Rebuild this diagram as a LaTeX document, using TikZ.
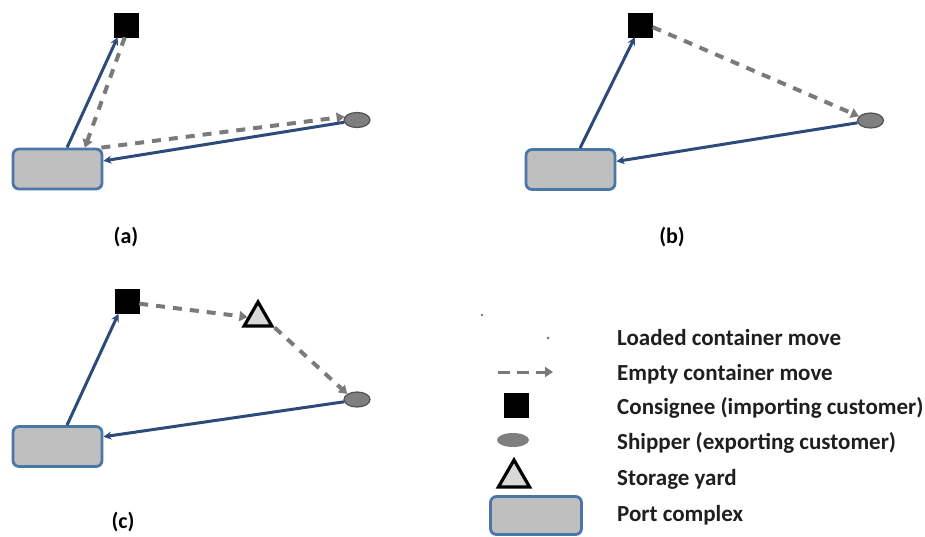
\documentclass[tikz,border=0pt]{standalone}
\usepackage{fontspec}
\setmainfont{Carlito}
\usetikzlibrary{arrows.meta,shapes.geometric}
\definecolor{loadc}{HTML}{2E4A7A}
\definecolor{emptyc}{HTML}{7A7A7A}
\definecolor{portfill}{HTML}{BFBFBF}
\definecolor{portedge}{HTML}{4A76A8}
\definecolor{shipfill}{HTML}{7F7F7F}
\definecolor{shipedge}{HTML}{505050}
\definecolor{trifill}{HTML}{D9D9D9}
\tikzset{
  x=1pt, y=-1pt,
  port/.style={draw=portedge, fill=portfill, line width=2.8pt, rounded corners=6pt, minimum width=89pt, minimum height=40pt, inner sep=0pt},
  consignee/.style={draw=black, fill=black, minimum size=24pt, inner sep=0pt},
  shipper/.style={ellipse, draw=shipedge, fill=shipfill, line width=1.2pt, minimum width=26pt, minimum height=15pt, inner sep=0pt},
  yard/.style={regular polygon, regular polygon sides=3, draw=black, fill=trifill, line width=3.2pt, minimum size=32pt, inner sep=0pt},
  loaded/.style={draw=loadc, line width=3pt, -{Stealth[length=8pt,width=8pt,open,line width=1.5pt]}},
  emptymove/.style={draw=emptyc, line width=4pt, dash pattern=on 9pt off 8pt, -{Triangle[length=8pt,width=10pt]}},
  lbl/.style={font=\fontsize{22}{24}\selectfont\bfseries, inner sep=0pt},
  legtext/.style={font=\fontsize{23}{25}\selectfont\bfseries, anchor=base west, inner sep=0pt, text=black!88},
}
\begin{document}
\begin{tikzpicture}
\useasboundingbox (0,0) rectangle (925,536);
% ---------- panel (a)
\node[port] (pa) at (57.5,169) {};
\node[consignee] (sa) at (126.5,25) {};
\node[shipper] (ha) at (357,120) {};
\draw[loaded] (pa.66) -- (sa.234);
\draw[emptymove] (sa.262) -- (pa.38);
\draw[emptymove] (pa.26) -- (ha.165);
\draw[loaded] (ha.190) -- (pa.10);
\node[lbl] (la) at (126,237) {(a)};
% ---------- panel (b)
\node[port] (pb) at (570.5,169.5) {};
\node[consignee] (sb) at (640.5,25) {};
\node[shipper] (hb) at (870.5,120.5) {};
\draw[loaded] (pb.66) -- (sb.245);
\draw[emptymove] (sb.350) -- (hb.160);
\draw[loaded] (hb.190) -- (pb.10);
\node[lbl] (lb) at (672,237) {(b)};
% ---------- panel (c)
\node[port] (pc) at (57.5,446.5) {};
\node[consignee] (sc) at (127,301.5) {};
\node[yard] (tc) at (258,318) {};
\node[shipper] (hc) at (357,399.5) {};
\draw[loaded] (pc.66) -- (sc.235);
\draw[emptymove] (sc.350) -- (tc.175);
\draw[emptymove] (tc.330) -- (hc.150);
\draw[loaded] (hc.190) -- (pc.12);
\node[lbl] (lc) at (123,522) {(c)};
% ---------- legend
\fill[emptyc] (482,315) circle (1.3pt);
\coordinate (ld) at (548,338);
\fill[emptyc] (ld) circle (1.5pt);
\coordinate (e1) at (498,372);
\coordinate (e2) at (553,372);
\draw[emptymove, line width=3pt, dash pattern=on 12pt off 7pt] (e1) -- (e2);
\node[consignee] (lgs) at (516,405) {};
\node[shipper, minimum width=32pt, minimum height=14pt, draw=none] (lgh) at (513,440) {};
\node[yard, minimum size=36pt] (lgt) at (514,478) {};
\node[port, minimum width=91pt, minimum height=38pt] (lgp) at (536,515.5) {};
\node[legtext] (t1) at (617,345) {Loaded container move};
\node[legtext] (t2) at (617,380) {Empty container move};
\node[legtext] (t3) at (617,414) {Consignee (importing customer)};
\node[legtext] (t4) at (617,449) {Shipper (exporting customer)};
\node[legtext] (t5) at (617,485) {Storage yard};
\node[legtext] (t6) at (617,521) {Port complex};
\end{tikzpicture}
\end{document}
